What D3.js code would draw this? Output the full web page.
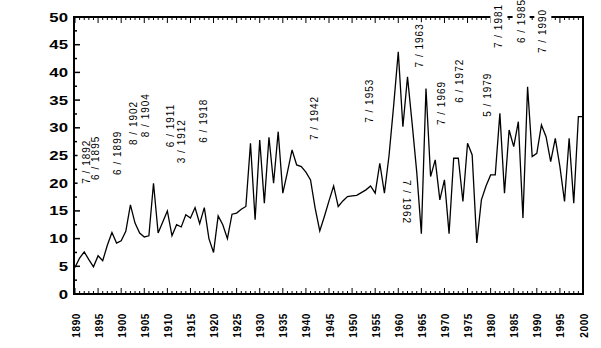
<!DOCTYPE html>
<html>
<head>
<meta charset="utf-8">
<script src="https://cdn.jsdelivr.net/npm/d3@7"></script>
<style>
  body { margin: 0; background: #fff; }
  text { font-family: 'Liberation Sans', Arial, sans-serif; fill: #000; }
</style>
</head>
<body>
<div id="chart"></div>
<script>
// yearly values, 1890 .. 2000
var firstYear = 1890;
var peaks = [
  4.8, 6.5, 7.6, 6.2, 4.9, 6.9, 6.0, 8.8, 11.1, 9.2,
  9.6, 11.3, 16.1, 12.8, 11.0, 10.3, 10.5, 20.0, 11.0, 13.0,
  15.0, 10.5, 12.5, 12.1, 14.3, 13.7, 15.6, 12.7, 15.6, 10.0,
  7.5, 14.1, 12.5, 10.0, 14.4, 14.6, 15.3, 15.8, 27.2, 13.4,
  27.8, 16.4, 28.3, 20.0, 29.3, 18.2, 22.0, 26.0, 23.3, 23.0,
  22.0, 20.6, 15.5, 11.4, 14.0, 16.8, 19.5, 15.8, 16.8, 17.6,
  17.7, 17.8, 18.3, 18.8, 19.5, 18.2, 23.6, 18.2, 25.0, 34.0,
  43.7, 30.2, 39.2, 30.8, 22.0, 10.9, 37.1, 21.2, 24.2, 17.0,
  20.6, 10.9, 24.5, 24.5, 16.7, 27.2, 25.1, 9.2, 17.0, 19.5,
  21.5, 21.5, 32.6, 18.2, 29.6, 26.6, 31.1, 13.7, 37.4, 24.8,
  25.4, 30.5, 28.4, 23.9, 28.1, 23.0, 16.7, 28.1, 16.4, 32.0,
  32.0
];

var yTicks = [0, 5, 10, 15, 20, 25, 30, 35, 40, 45, 50];
var xTicks = d3.range(1890, 2001, 5);

// event notes: where they sit (year, value at start of the text)
var notes = [
  { label: '7 / 1892', at: 1892.4, value: 19.9 },
  { label: '6 / 1895', at: 1894.5, value: 20.6 },
  { label: '6 / 1899', at: 1899.1, value: 21.5 },
  { label: '8 / 1902', at: 1902.6, value: 26.9 },
  { label: '8 / 1904', at: 1905.2, value: 28.3 },
  { label: '6 / 1911', at: 1910.6, value: 26.5 },
  { label: '3 / 1912', at: 1913.0, value: 23.6 },
  { label: '6 / 1918', at: 1917.9, value: 27.3 },
  { label: '7 / 1942', at: 1941.8, value: 27.8 },
  { label: '7 / 1953', at: 1953.7, value: 30.9 },
  { label: '7 / 1962', at: 1961.7, value: 20.6, flip: true },
  { label: '7 / 1963', at: 1964.5, value: 40.9 },
  { label: '7 / 1969', at: 1969.3, value: 30.5 },
  { label: '6 / 1972', at: 1973.2, value: 34.5 },
  { label: '5 / 1979', at: 1979.4, value: 32.0 },
  { label: '7 / 1981', at: 1981.8, value: 44.4 },
  { label: '6 / 1985', at: 1986.6, value: 45.3 },
  { label: '7 / 1990', at: 1991.3, value: 43.5 }
];

var width = 601, height = 348;
var margin = { top: 17, right: 18, bottom: 54, left: 75 };

var x = d3.scaleLinear().domain([1890, 2000]).range([margin.left, width - margin.right]);
var y = d3.scaleLinear().domain([0, 50]).range([height - margin.bottom, margin.top]);

var svg = d3.select('#chart')
  .append('svg')
  .attr('width', width)
  .attr('height', height);

svg.append('rect').attr('width', width).attr('height', height).attr('fill', '#fff');

var x0 = x(1890), x1 = x(2000), yb = y(0), yt = y(50);

// frame
var frame = svg.append('g').attr('stroke', '#000').attr('fill', 'none');
frame.append('line').attr('x1', x0 - 1).attr('x2', x0 - 1).attr('y1', yt).attr('y2', yb + 1).attr('stroke-width', 2);
frame.append('line').attr('x1', x0 - 2).attr('x2', x1 + 1).attr('y1', yb).attr('y2', yb).attr('stroke-width', 2);
frame.append('line').attr('x1', x0 - 2).attr('x2', x1 + 1).attr('y1', yt).attr('y2', yt).attr('stroke-width', 2);
frame.append('line').attr('x1', x1).attr('x2', x1).attr('y1', yt).attr('y2', yb + 1).attr('stroke-width', 2);

// year ticks, bottom and top, pointing inwards
var years = d3.range(1890, 2001);
frame.selectAll('.tb').data(years).enter().append('line')
  .attr('x1', function(d) { return x(d); }).attr('x2', function(d) { return x(d); })
  .attr('y1', yb).attr('y2', function(d) { return yb - (d % 5 === 0 ? 6 : 3); })
  .attr('stroke-width', 1);
frame.selectAll('.tt').data(years).enter().append('line')
  .attr('x1', function(d) { return x(d); }).attr('x2', function(d) { return x(d); })
  .attr('y1', yt).attr('y2', function(d) { return yt + (d % 5 === 0 ? 6 : 3); })
  .attr('stroke-width', 1);

// value ticks on the left
var minor = d3.range(0, 50.1, 2.5);
frame.selectAll('.tl').data(minor).enter().append('line')
  .attr('x1', x0 - 1).attr('x2', function(d) { return x0 + (d % 5 === 0 ? 5 : 2); })
  .attr('y1', function(d) { return y(d); }).attr('y2', function(d) { return y(d); })
  .attr('stroke-width', 1.5);

// y labels
svg.selectAll('.yl').data(yTicks).enter().append('text')
  .attr('transform', function(d) { return 'translate(68,' + (y(d) + 4.5) + ') scale(1.4,1)'; })
  .attr('text-anchor', 'end')
  .attr('font-size', 12)
  .attr('font-weight', 'bold')
  .text(function(d) { return d; });

// x labels
svg.selectAll('.xl').data(xTicks).enter().append('text')
  .attr('transform', function(d) { return 'translate(' + (x(d) + 4.5) + ',313) rotate(-90)'; })
  .attr('text-anchor', 'end')
  .attr('font-size', 10)
  .attr('font-weight', 'bold')
  .attr('letter-spacing', 0.6)
  .text(function(d) { return d; });

// the series
var line = d3.line()
  .x(function(d, i) { return x(firstYear + i); })
  .y(function(d) { return y(d); });

svg.append('path')
  .datum(peaks)
  .attr('d', line)
  .attr('fill', 'none')
  .attr('stroke', '#000')
  .attr('stroke-width', 1.3)
  .attr('stroke-linejoin', 'miter');

// notes: white backing first, then all the texts on top
function noteTransform(d) {
  return d.flip
    ? 'translate(' + (x(d.at) - 3.5) + ',' + y(d.value) + ') rotate(90)'
    : 'translate(' + (x(d.at) + 3.5) + ',' + y(d.value) + ') rotate(-90)';
}

var backs = svg.append('g');
var texts = svg.append('g');

texts.selectAll('text').data(notes).enter().append('text')
  .attr('transform', noteTransform)
  .attr('font-size', 10)
  .attr('letter-spacing', 1)
  .text(function(d) { return d.label; })
  .each(function(d) {
    var b = this.getBBox();
    backs.append('rect')
      .attr('transform', noteTransform(d))
      .attr('x', b.x - 1).attr('y', b.y - 3)
      .attr('width', b.width + 2).attr('height', b.height + 6)
      .attr('fill', '#fff');
  });
</script>
</body>
</html>
